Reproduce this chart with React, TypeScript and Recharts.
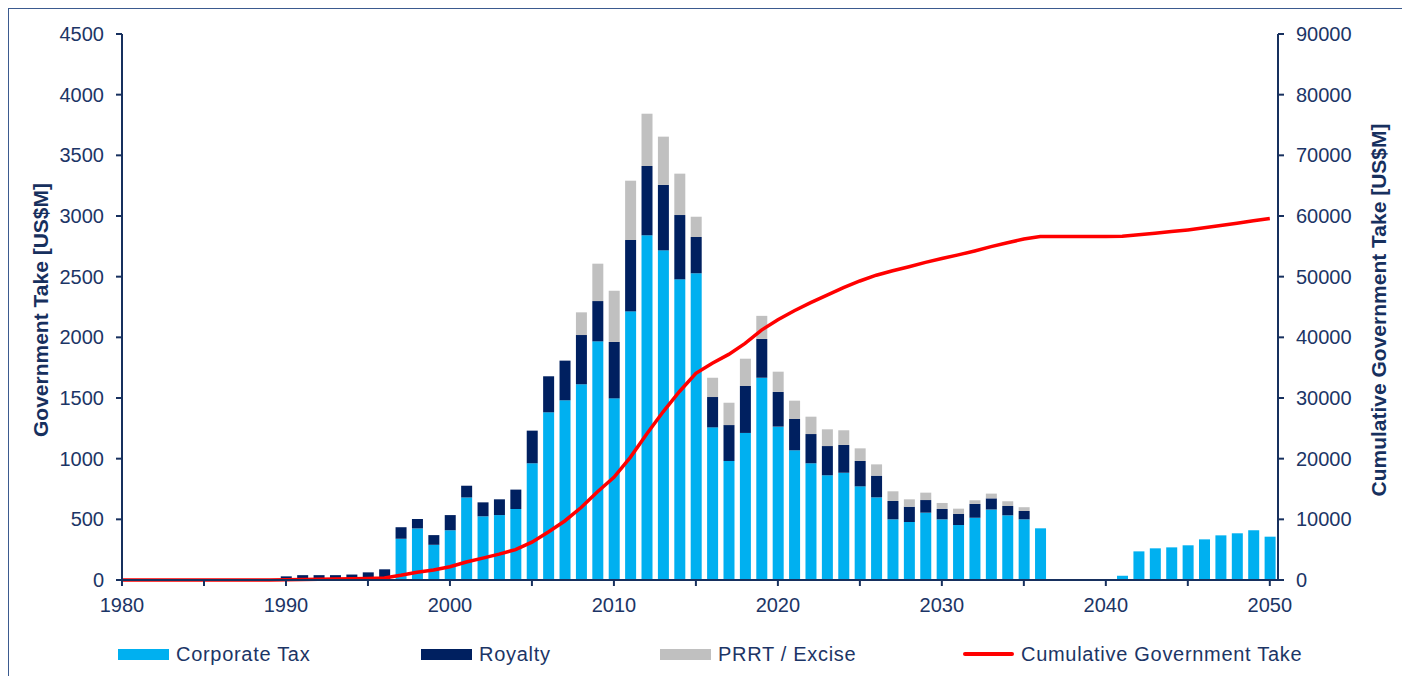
import { Bar, ComposedChart, Line, XAxis, YAxis } from 'recharts'

// one entry per year, 1980..2050
const years = [
  1980, 1981, 1982, 1983, 1984, 1985, 1986, 1987, 1988, 1989,
  1990, 1991, 1992, 1993, 1994, 1995, 1996, 1997, 1998, 1999,
  2000, 2001, 2002, 2003, 2004, 2005, 2006, 2007, 2008, 2009,
  2010, 2011, 2012, 2013, 2014, 2015, 2016, 2017, 2018, 2019,
  2020, 2021, 2022, 2023, 2024, 2025, 2026, 2027, 2028, 2029,
  2030, 2031, 2032, 2033, 2034, 2035, 2036, 2037, 2038, 2039,
  2040, 2041, 2042, 2043, 2044, 2045, 2046, 2047, 2048, 2049,
  2050,
]

const corporateTax = [
  0, 0, 0, 0, 0, 0, 0, 0, 0, 0,
  0, 0, 0, 0, 0, 0, 0, 340, 425, 290,
  410, 680, 525, 535, 585, 962, 1382, 1481, 1613, 1967,
  1497, 2214, 2841, 2717, 2478, 2528, 1258, 981, 1212, 1667,
  1264, 1069, 962, 863, 884, 772, 681, 500, 478, 555,
  500, 453, 513, 581, 533, 500, 426, 0, 0, 0,
  0, 35, 236, 261, 269, 286, 335, 368, 385, 410,
  357,
]

const royalty = [
  0, 0, 0, 0, 0, 0, 0, 0, 0, 0,
  30, 40, 40, 40, 45, 63, 88, 95, 78, 80,
  125, 97, 115, 130, 160, 269, 297, 327, 406, 332,
  465, 588, 571, 539, 530, 299, 250, 296, 387, 320,
  286, 258, 241, 241, 229, 209, 179, 151, 126, 104,
  85, 91, 114, 92, 77, 69, 0, 0, 0, 0,
  0, 0, 0, 0, 0, 0, 0, 0, 0, 0,
  0,
]

const prrtExcise = [
  0, 0, 0, 0, 0, 0, 0, 0, 0, 0,
  0, 0, 0, 0, 0, 0, 0, 0, 0, 0,
  0, 0, 0, 0, 0, 0, 0, 0, 187, 308,
  422, 489, 431, 398, 341, 167, 159, 184, 225, 190,
  167, 151, 143, 138, 121, 104, 93, 80, 61, 61,
  50, 44, 30, 39, 39, 31, 0, 0, 0, 0,
  0, 0, 0, 0, 0, 0, 0, 0, 0, 0,
  0,
]

const cumulativeTake = [
  0, 0, 0, 0, 0, 0, 0, 0, 0, 0,
  30, 70, 110, 150, 195, 258, 346, 780, 1280, 1650,
  2190, 2960, 3600, 4270, 5010, 6240, 7920, 9730, 11940, 14540,
  16930, 20220, 24060, 27720, 31070, 34060, 35730, 37190, 39010, 41190,
  42900, 44380, 45730, 46970, 48200, 49290, 50240, 50970, 51640, 52360,
  53000, 53590, 54240, 54950, 55600, 56200, 56630, 56630, 56630, 56630,
  56630, 56660, 56900, 57160, 57430, 57710, 58050, 58420, 58800, 59210,
  59570,
]

const xTicks = [1980, 1985, 1990, 1995, 2000, 2005, 2010, 2015, 2020, 2025, 2030, 2035, 2040, 2045, 2050]
const leftTicks = [0, 500, 1000, 1500, 2000, 2500, 3000, 3500, 4000, 4500]
const rightTicks = [0, 10000, 20000, 30000, 40000, 50000, 60000, 70000, 80000, 90000]

const data = years.map((year, i) => ({
  year,
  corporate: corporateTax[i],
  royalty: royalty[i],
  prrt: prrtExcise[i],
  cumulative: cumulativeTake[i],
}))

const NAVY = '#17305e'
const TEXT = '#1c3566'
const FONT = '"Liberation Sans", Arial, sans-serif'
const tick = { fontSize: 20, fill: TEXT, fontFamily: FONT }

const legendItems = [
  { label: 'Corporate Tax', color: '#00b0f0', left: 109, kind: 'bar' },
  { label: 'Royalty', color: '#002060', left: 412, kind: 'bar' },
  { label: 'PRRT / Excise', color: '#c0c0c0', left: 651, kind: 'bar' },
  { label: 'Cumulative Government Take', color: '#ff0000', left: 954, kind: 'line' },
]

function AxisTitle({ viewBox, text, cx }: any) {
  const x = viewBox.x + cx
  const y = viewBox.y + viewBox.height / 2 + 3
  return (
    <text
      x={x}
      y={y}
      transform={`rotate(-90 ${x} ${y})`}
      textAnchor="middle"
      dominantBaseline="central"
      fontSize={21}
      fontWeight="bold"
      fontFamily={FONT}
      fill={NAVY}
    >
      {text}
    </text>
  )
}

export default function App() {
  return (
    <div
      style={{
        position: 'relative',
        width: 1398,
        height: 668,
        boxSizing: 'border-box',
        borderTop: '1px solid #3b5a8f',
        borderLeft: '1px solid #3b5a8f',
        borderRight: '1px solid #3b5a8f',
        background: '#fff',
      }}
    >
      <ComposedChart
        width={1396}
        height={667}
        data={data}
        margin={{ top: 25, right: 17, left: 13, bottom: 56 }}
      >
        <XAxis
          dataKey="year"
          type="number"
          domain={[1980, 2050.5]}
          ticks={xTicks}
          interval={0}
          tickFormatter={(v: number) => (v % 10 === 0 ? String(v) : '')}
          tick={tick}
          tickSize={6}
          tickMargin={12}
          tickLine={{ stroke: NAVY, strokeWidth: 2 }}
          axisLine={{ stroke: NAVY, strokeWidth: 2 }}
          height={40}
        />
        <YAxis
          yAxisId="left"
          domain={[0, 4500]}
          ticks={leftTicks}
          interval={0}
          tick={tick}
          tickSize={6}
          tickMargin={12}
          tickLine={{ stroke: NAVY, strokeWidth: 2 }}
          axisLine={{ stroke: NAVY, strokeWidth: 2 }}
          width={100}
          label={(p: any) => <AxisTitle {...p} text="Government Take [US$M]" cx={18} />}
        />
        <YAxis
          yAxisId="right"
          orientation="right"
          domain={[0, 90000]}
          ticks={rightTicks}
          interval={0}
          tick={tick}
          tickSize={6}
          tickMargin={12}
          tickLine={{ stroke: NAVY, strokeWidth: 2 }}
          axisLine={{ stroke: NAVY, strokeWidth: 2 }}
          width={110}
          label={(p: any) => <AxisTitle {...p} text="Cumulative Government Take [US$M]" cx={100} />}
        />
        <Bar yAxisId="left" dataKey="corporate" stackId="take" fill="#00b0f0" barSize={11} isAnimationActive={false} />
        <Bar yAxisId="left" dataKey="royalty" stackId="take" fill="#002060" barSize={11} isAnimationActive={false} />
        <Bar yAxisId="left" dataKey="prrt" stackId="take" fill="#c0c0c0" barSize={11} isAnimationActive={false} />
        <Line
          yAxisId="right"
          dataKey="cumulative"
          type="linear"
          stroke="#ff0000"
          strokeWidth={3.5}
          dot={false}
          isAnimationActive={false}
        />
      </ComposedChart>
      {legendItems.map((item) => (
        <div
          key={item.label}
          style={{
            position: 'absolute',
            left: item.left,
            top: 633,
            height: 24,
            display: 'flex',
            alignItems: 'center',
            fontFamily: FONT,
            fontSize: 20,
            letterSpacing: 0.7,
            color: TEXT,
            whiteSpace: 'nowrap',
          }}
        >
          <span
            style={{
              display: 'inline-block',
              width: 51,
              height: item.kind === 'bar' ? 11 : 4,
              background: item.color,
              marginRight: 7,
              borderRadius: item.kind === 'line' ? 2 : 0,
            }}
          />
          {item.label}
        </div>
      ))}
    </div>
  )
}
